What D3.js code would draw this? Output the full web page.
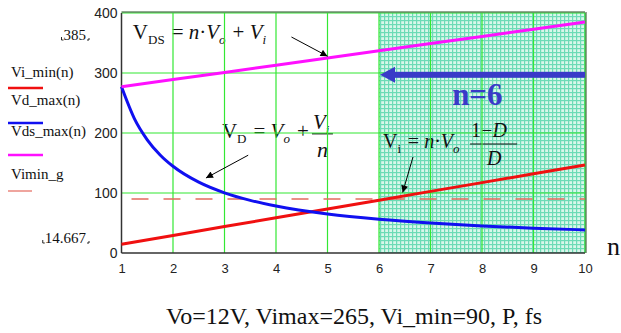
<!DOCTYPE html>
<html>
<head>
<meta charset="utf-8">
<script src="https://cdn.jsdelivr.net/npm/d3@7"></script>
<style>
  body { margin: 0; background: #fff; }
  svg { display: block; }
  text { font-family: "Liberation Serif", "Times New Roman", serif; }
  .tick text { fill: #222; font-family: "Liberation Sans", Arial, sans-serif; }
</style>
</head>
<body>
<div id="chart"></div>
<script>
// values
var nTicks = [1, 2, 3, 4, 5, 6, 7, 8, 9, 10];
var yTicks = [0, 100, 200, 300, 400];

var nLin = [1, 2, 3, 4, 5, 6, 7, 8, 9, 10];
var viMin = [14.7, 29.3, 44, 58.7, 73.3, 88, 102.7, 117.3, 132, 146.7];
var vdsMax = [277, 289, 301, 313, 325, 337, 349, 361, 373, 385];

var nCurve = [1, 1.25, 1.5, 1.75, 2, 2.5, 3, 3.5, 4, 5, 6, 7, 8, 9, 10];
var vdMax = [277, 224, 188.7, 163.4, 144.5, 118, 100.3, 87.7, 78.3, 65, 56.2, 49.9, 45.1, 41.4, 38.5];

var viminG = 90;
var nChosen = 6;

var svgWidth = 621;
var svgHeight = 333;

var margin = { top: 13, left: 121.5, right: 36, bottom: 80 };

var svg = d3.select("#chart")
    .append("svg")
    .attr("width", svgWidth)
    .attr("height", svgHeight);

var x = d3.scaleLinear().domain([1, 10]).range([margin.left, svgWidth - margin.right]);
var y = d3.scaleLinear().domain([0, 400]).range([svgHeight - margin.bottom, margin.top]);

// hatched region pattern
var defs = svg.append("defs");
var pat = defs.append("pattern")
    .attr("id", "hatch")
    .attr("width", 4).attr("height", 4)
    .attr("patternUnits", "userSpaceOnUse");
pat.append("rect").attr("width", 4).attr("height", 4).attr("fill", "#d8f7ea");
pat.append("rect").attr("width", 4).attr("height", 1.2).attr("fill", "#6cdbb6");
pat.append("rect").attr("width", 1.2).attr("height", 4).attr("fill", "#6cdbb6");

svg.append("rect")
    .attr("x", x(nChosen))
    .attr("y", y(400))
    .attr("width", x(10) - x(nChosen))
    .attr("height", y(0) - y(400))
    .attr("fill", "url(#hatch)");

// formulas (drawn under the grid)
function sub(t, s, italic) {
    t.append("tspan").attr("font-size", 13).attr("dy", 5)
        .attr("font-style", italic ? "italic" : null).text(s);
    t.append("tspan").attr("dy", -5).text("\u200a");
}

// V_DS = n·Vo + Vi
var f1 = svg.append("text").attr("x", x(1.22)).attr("y", y(357)).attr("font-size", 21).attr("fill", "#111");
f1.append("tspan").text("V");
sub(f1, "DS", false);
f1.append("tspan").text(" = ");
f1.append("tspan").attr("font-style", "italic").text("n");
f1.append("tspan").text("\u00b7");
f1.append("tspan").attr("font-style", "italic").text("V");
sub(f1, "o", true);
f1.append("tspan").text(" + ");
f1.append("tspan").attr("font-style", "italic").text("V");
sub(f1, "i", true);

// V_D = Vo + Vi/n
var ax2 = x(2.95), ay2 = y(192);
var f2 = svg.append("text").attr("x", ax2).attr("y", ay2).attr("font-size", 21).attr("fill", "#111");
f2.append("tspan").text("V");
sub(f2, "D", false);
f2.append("tspan").text(" = ");
f2.append("tspan").attr("font-style", "italic").text("V");
sub(f2, "o", true);
f2.append("tspan").text(" +");
var fn2 = svg.append("text").attr("x", ax2 + 91).attr("y", ay2 - 9).attr("font-size", 21)
    .attr("font-style", "italic").attr("fill", "#111");
fn2.append("tspan").text("V");
fn2.append("tspan").attr("font-size", 13).attr("dy", 5).text("i");
svg.append("line").attr("x1", ax2 + 90).attr("x2", ax2 + 111)
    .attr("y1", ay2 - 4).attr("y2", ay2 - 4).attr("stroke", "#111").attr("stroke-width", 1.2);
svg.append("text").attr("x", ax2 + 95).attr("y", ay2 + 19).attr("font-size", 22)
    .attr("font-style", "italic").attr("fill", "#111").text("n");

// V_i = n·Vo (1-D)/D
var ax3 = x(6.08), ay3 = y(175);
var f3 = svg.append("text").attr("x", ax3).attr("y", ay3).attr("font-size", 20).attr("fill", "#111");
f3.append("tspan").text("V");
sub(f3, "i", false);
f3.append("tspan").text(" = ");
f3.append("tspan").attr("font-style", "italic").text("n");
f3.append("tspan").text("\u00b7");
f3.append("tspan").attr("font-style", "italic").text("V");
sub(f3, "o", true);
svg.append("text").attr("x", ax3 + 88).attr("y", ay3 - 11).attr("font-size", 20).attr("fill", "#111")
    .html("1\u2212<tspan font-style='italic'>D</tspan>");
svg.append("line").attr("x1", ax3 + 87).attr("x2", ax3 + 134)
    .attr("y1", ay3 - 4).attr("y2", ay3 - 4).attr("stroke", "#111").attr("stroke-width", 1.2);
svg.append("text").attr("x", ax3 + 104).attr("y", ay3 + 17).attr("font-size", 20)
    .attr("font-style", "italic").attr("fill", "#111").text("D");

// grid
var grid = svg.append("g").attr("stroke", "#33e833").attr("stroke-width", 1.2);
grid.selectAll(".vg").data(nTicks.slice(1)).enter().append("line")
    .attr("x1", d => x(d)).attr("x2", d => x(d))
    .attr("y1", y(0)).attr("y2", y(400));
grid.selectAll(".hg").data(yTicks.slice(1)).enter().append("line")
    .attr("x1", x(1)).attr("x2", x(10))
    .attr("y1", d => y(d)).attr("y2", d => y(d));

// axes
var yAxis = svg.append("g")
    .attr("transform", `translate(${x(1)},0)`)
    .call(d3.axisLeft(y).tickValues(yTicks).tickSize(0).tickPadding(4));
yAxis.select(".domain").remove();
yAxis.attr("font-family", null);
yAxis.selectAll("text").attr("font-size", 14);

var xAxis = svg.append("g")
    .attr("transform", `translate(0,${y(0)})`)
    .call(d3.axisBottom(x).tickValues(nTicks).tickSize(0).tickPadding(11));
xAxis.select(".domain").remove();
xAxis.attr("font-family", null);
xAxis.selectAll("text").attr("font-size", 13);

// frame
svg.append("line").attr("x1", x(1)).attr("x2", x(1)).attr("y1", y(0)).attr("y2", y(400))
    .attr("stroke", "#333").attr("stroke-width", 1.5);
svg.append("line").attr("x1", x(1)).attr("x2", x(10)).attr("y1", y(0)).attr("y2", y(0))
    .attr("stroke", "#333").attr("stroke-width", 1.5);
svg.append("line").attr("x1", x(1)).attr("x2", x(10)).attr("y1", y(400) - 1).attr("y2", y(400) - 1)
    .attr("stroke", "#234e23").attr("stroke-width", 1);
svg.append("line").attr("x1", x(10) + 1).attr("x2", x(10) + 1).attr("y1", y(400) - 1).attr("y2", y(0))
    .attr("stroke", "#234e23").attr("stroke-width", 1);

// series
var lineLin = d3.line().x((d, i) => x(nLin[i])).y(d => y(d));
var lineCurve = d3.line().x((d, i) => x(nCurve[i])).y(d => y(d)).curve(d3.curveMonotoneX);

svg.append("line")
    .attr("x1", x(1)).attr("x2", x(10))
    .attr("y1", y(viminG)).attr("y2", y(viminG))
    .attr("stroke", "#e46a5e").attr("stroke-width", 1.3)
    .attr("stroke-dasharray", "17,15").attr("stroke-dashoffset", -10);

svg.append("path").datum(viMin).attr("d", lineLin)
    .attr("fill", "none").attr("stroke", "#f01010").attr("stroke-width", 3);
svg.append("path").datum(vdMax).attr("d", lineCurve)
    .attr("fill", "none").attr("stroke", "#1010f0").attr("stroke-width", 3);
svg.append("path").datum(vdsMax).attr("d", lineLin)
    .attr("fill", "none").attr("stroke", "#ff10ff").attr("stroke-width", 3);

// thin arrows pointing at curves
defs.append("marker")
    .attr("id", "ah").attr("viewBox", "0 0 10 10")
    .attr("refX", 10).attr("refY", 5)
    .attr("markerWidth", 9).attr("markerHeight", 7)
    .attr("markerUnits", "userSpaceOnUse")
    .attr("orient", "auto")
    .append("path").attr("d", "M0,0L10,5L0,10z").attr("fill", "#000");

var pointers = [
    { from: [4.3, 360], to: [5, 328] },
    { from: [3.46, 163], to: [2.64, 125] },
    { from: [6.66, 160], to: [6.46, 101] }
];
svg.selectAll(".ptr").data(pointers).enter().append("line")
    .attr("x1", d => x(d.from[0])).attr("y1", d => y(d.from[1]))
    .attr("x2", d => x(d.to[0])).attr("y2", d => y(d.to[1]))
    .attr("stroke", "#000").attr("stroke-width", 1)
    .attr("marker-end", "url(#ah)");

// big blue arrow toward n = 6
var ay = y(297);
svg.append("rect")
    .attr("x", x(nChosen) + 14).attr("y", ay - 3)
    .attr("width", x(10) - x(nChosen) - 14).attr("height", 6)
    .attr("fill", "#3a3ac8");
svg.append("path")
    .attr("d", `M${x(nChosen) + 1},${ay}L${x(nChosen) + 16},${ay - 8}L${x(nChosen) + 16},${ay + 8}Z`)
    .attr("fill", "#3a3ac8");
svg.append("text")
    .attr("x", x(7.42)).attr("y", y(246))
    .attr("font-size", 31).attr("font-weight", "bold")
    .attr("fill", "#3a3ac8").text("n=6");

// left legend
var legNames = ["Vi_min(n)", "Vd_max(n)", "Vds_max(n)", "Vimin_g"];
var legColors = ["#f01010", "#1010f0", "#ff10ff", "#e46a5e"];
var legY = [77, 105, 136, 179];
var legLineY = [88, 123, 155, 191];
var legLineW = [35, 35, 35, 24];
var legStroke = [2.5, 2.5, 2.5, 1.2];

svg.selectAll(".legt").data(legNames).enter().append("text")
    .attr("x", 11).attr("y", (d, i) => legY[i])
    .attr("font-size", 15).attr("fill", "#111").text(d => d);
svg.selectAll(".legl").data(legNames).enter().append("line")
    .attr("x1", 8).attr("x2", (d, i) => 8 + legLineW[i])
    .attr("y1", (d, i) => legLineY[i]).attr("y2", (d, i) => legLineY[i])
    .attr("stroke", (d, i) => legColors[i]).attr("stroke-width", (d, i) => legStroke[i]);

// axis limit markers
function limitLabel(txt, xr, yb) {
    var t = svg.append("text").attr("x", xr).attr("y", yb).attr("text-anchor", "end")
        .attr("font-size", 15).attr("fill", "#111").text(txt);
    var bb = t.node().getBBox();
    svg.append("path")
        .attr("d", `M${bb.x - 2},${yb - 3}L${bb.x - 2},${yb}L${bb.x},${yb}`)
        .attr("fill", "none").attr("stroke", "#111").attr("stroke-width", 0.9);
    svg.append("path")
        .attr("d", `M${xr + 1},${yb}L${xr + 3},${yb}L${xr + 3},${yb - 2}`)
        .attr("fill", "none").attr("stroke", "#111").attr("stroke-width", 0.9);
}
limitLabel(d3.max(vdsMax).toString(), 86, 40);
limitLabel("14.667", 86, 243);

// n axis label
svg.append("text").attr("x", 607).attr("y", 255).attr("font-size", 26).attr("fill", "#111").text("n");

// caption
svg.append("text").attr("x", 354).attr("y", 324).attr("text-anchor", "middle")
    .attr("font-size", 24).attr("fill", "#111")
    .text("Vo=12V, Vimax=265, Vi_min=90, P, fs");
</script>
</body>
</html>
